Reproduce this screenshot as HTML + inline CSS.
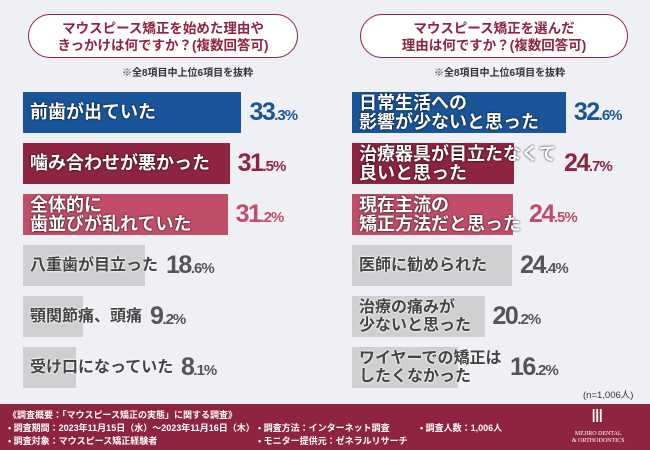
<!DOCTYPE html>
<html><head><meta charset="utf-8"><style>
body{margin:0;width:650px;height:450px;overflow:hidden;background:#eef0f5;font-family:"Liberation Sans","Noto Sans CJK JP",sans-serif;position:relative}
.pill{position:absolute;border:1.5px solid #8e2440;border-radius:22px;background:#fff;color:#8e2440;font-weight:bold;font-size:13.5px;text-align:center;line-height:17px;padding-top:5px;box-sizing:border-box}
.note{position:absolute;font-size:10px;color:#333;font-weight:bold}
.bar{position:absolute;height:41px}
.lbl{position:absolute;font-weight:bold;white-space:nowrap}
.val{position:absolute;font-weight:bold;font-size:25px;letter-spacing:-1.5px;font-family:"Liberation Sans Narrow","Liberation Sans",sans-serif}
.val small{font-size:15px;letter-spacing:-1px}
#footer{position:absolute;left:0;top:404px;width:650px;height:46px;background:#8e2440;color:#fff;font-size:9px;font-weight:bold}
#footer div{position:absolute;white-space:nowrap}
</style></head><body>
<div class="pill" style="left:28px;top:14px;width:270px;height:44px">マウスピース矯正を始めた理由や<br>きっかけは何ですか？(複数回答可)</div>
<div class="pill" style="left:360px;top:14px;width:268px;height:44px">マウスピース矯正を選んだ<br>理由は何ですか？(複数回答可)</div>
<div class="note" style="left:122px;top:64px">※全8項目中上位6項目を抜粋</div>
<div class="note" style="left:434px;top:64px">※全8項目中上位6項目を抜粋</div>
<div id="chart"></div>
<div class="note" style="left:583px;top:387px;font-weight:normal;font-size:9.5px">(n=1,006人)</div>
<div id="footer">
<div style="left:8px;top:4px">《調査概要：「マウスピース矯正の実態」に関する調査》</div>
<div style="left:8px;top:17px">• 調査期間：2023年11月15日（水）～2023年11月16日（木）</div>
<div style="left:8px;top:30px">• 調査対象：マウスピース矯正経験者</div>
<div style="left:258px;top:17px">• 調査方法：インターネット調査</div>
<div style="left:258px;top:30px">• モニター提供元：ゼネラルリサーチ</div>
<div style="left:420px;top:17px">• 調査人数：1,006人</div>
<div style="left:591px;top:2px;font-size:18px;font-weight:normal;font-family:'Liberation Serif',serif">Ⅲ</div>
<div style="left:572px;top:27px;font-size:6px;font-weight:normal;text-align:center;line-height:7px;font-family:'Liberation Serif',serif">MEJIRO DENTAL<br>&amp; ORTHODONTICS</div>
</div>
<script>
const leftCats=["前歯が出ていた","噛み合わせが悪かった","全体的に\n歯並びが乱れていた","八重歯が目立った","顎関節痛、頭痛","受け口になっていた"];
const leftVals=[33.3,31.5,31.2,18.6,9.2,8.1];
const rightCats=["日常生活への\n影響が少ないと思った","治療器具が目立たなくて\n良いと思った","現在主流の\n矯正方法だと思った","医師に勧められた","治療の痛みが\n少ないと思った","ワイヤーでの矯正は\nしたくなかった"];
const rightVals=[32.6,24.7,24.5,24.4,20.2,16.2];
const colors=["#1a5599","#8e2440","#c24d68","#cfcfd1","#cfcfd1","#cfcfd1"];
const valColors=["#1a5599","#8e2440","#c24d68","#555","#555","#555"];
const scale=6.56;
const root=document.getElementById('chart');
function yPos(i){return 92+i*51;}
function draw(cats,vals,x0,side){
 cats.forEach((c,i)=>{
  const w=vals[i]*scale,y=yPos(i);
  const b=document.createElement('div');b.className='bar';
  
  
  b.style.cssText=`left:${x0}px;top:${y}px;width:${w}px;background:${colors[i]}`;
  root.appendChild(b);
  const l=document.createElement('div');l.className='lbl';
  
  
  const lines=c.split('\n');
  const col=i<3?'#fff':'#444';
  const sh=i<3?'0 0 2px #000':'0 0 2px #fff,0 0 2px #fff';
  const fs=i<3?18:16;
  const lh=i<3?19:18;
  const top=lines.length>1?y+(41-2*lh)/2:y+(41-lh)/2;
  l.style.cssText=`left:${x0+7}px;top:${top}px;color:${col};text-shadow:${sh};font-size:${fs}px;line-height:${lh}px`;
  l.innerHTML=lines.join('<br>');
  root.appendChild(l);
  const lEnd=x0+7+l.offsetWidth;
  const v=document.createElement('div');v.className='val';
  
  
  const s=vals[i].toFixed(1).split('.');
  v.innerHTML=s[0]+'<small>.'+s[1]+'%</small>';
  v.style.cssText+=`left:${Math.max(x0+w,lEnd)+8}px;top:${y+6}px;color:${valColors[i]}`;
  root.appendChild(v);
 });
}
draw(leftCats,leftVals,23,'left');
draw(rightCats,rightVals,352,'right');
</script>
</body></html>
